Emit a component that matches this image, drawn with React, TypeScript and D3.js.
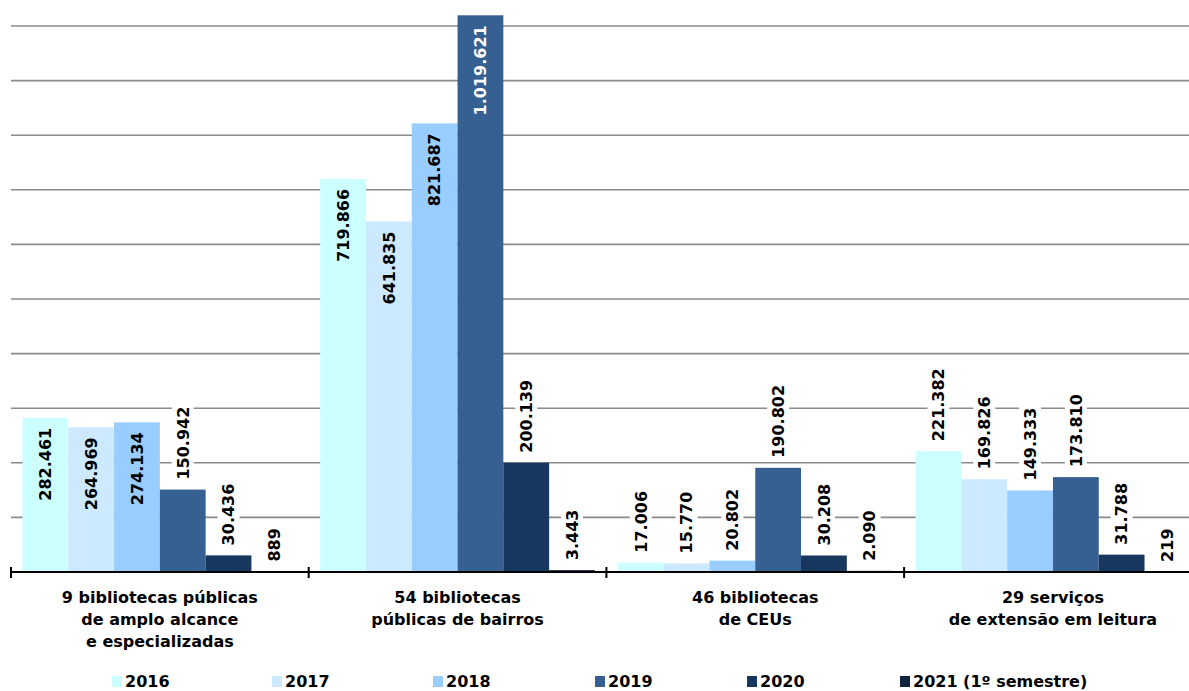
import React from "react";
import * as d3 from "d3";

const categories: string[][] = [
  ["9 bibliotecas públicas", "de amplo alcance", "e especializadas"],
  ["54 bibliotecas", "públicas de bairros"],
  ["46 bibliotecas", "de CEUs"],
  ["29 serviços", "de extensão em leitura"],
];
const seriesNames = ["2016", "2017", "2018", "2019", "2020", "2021 (1º semestre)"];
const seriesColors = ["#CCFFFF", "#CCE9FF", "#99CCFF", "#366092", "#17375E", "#10243F"];
const labelColors = ["#000", "#000", "#000", "#fff", "#fff", "#fff"];

const v2016 = [282461, 719866, 17006, 221382];
const v2017 = [264969, 641835, 15770, 169826];
const v2018 = [274134, 821687, 20802, 149333];
const v2019 = [150942, 1019621, 190802, 173810];
const v2020 = [30436, 200139, 30208, 31788];
const v2021 = [889, 3443, 2090, 219];
const seriesValues = [v2016, v2017, v2018, v2019, v2020, v2021];
const gridTicks = [100000, 200000, 300000, 400000, 500000, 600000, 700000, 800000, 900000, 1000000];

const W = 1189;
const H = 691;
const FONT = "'DejaVu Sans', Verdana, sans-serif";

const fmt = (v: number) => d3.format(",")(v).replace(/,/g, ".");

export default function App() {
  const left = 11;
  const groupW = 297.7;
  const baseY = 572;
  const x0 = d3
    .scaleBand<number>()
    .domain(categories.map((_, i) => i))
    .range([left, left + groupW * categories.length])
    .paddingInner(0)
    .paddingOuter(0);
  const x1 = d3
    .scaleBand<number>()
    .domain(seriesNames.map((_, i) => i))
    .range([11.5, groupW - 11.5])
    .padding(0);
  const y = d3.scaleLinear().domain([0, 1000000]).range([baseY, 26]);
  const inside = (v: number) => v > 250000;

  const legendX = [112, 272, 433, 595, 747, 900];

  return (
    <svg
      width={W}
      height={H}
      style={{ position: "absolute", left: 0, top: 0, background: "#fff" }}
      fontFamily={FONT}
    >
      <rect x={0} y={0} width={W} height={H} fill="#fff" />
      {gridTicks.map((t) => (
        <line key={t} x1={left} x2={W} y1={y(t)} y2={y(t)} stroke="#8a8a8a" strokeWidth={1.6} />
      ))}
      {categories.map((_, ci) => (
        <g key={ci} transform={`translate(${x0(ci)},0)`}>
          {seriesValues.map((vals, si) => {
            const v = vals[ci];
            const bx = x1(si)!;
            const bw = x1.bandwidth();
            return (
              <rect key={si} x={bx} y={y(v)} width={bw} height={baseY - y(v)} fill={seriesColors[si]} />
            );
          })}
        </g>
      ))}
      {categories.map((_, ci) => (
        <g key={"l" + ci} transform={`translate(${x0(ci)},0)`}>
          {seriesValues.map((vals, si) => {
            const v = vals[ci];
            const cx = x1(si)! + x1.bandwidth() / 2;
            const txt = fmt(v);
            const isIn = inside(v);
            const ty = isIn ? y(v) + 10 : y(v) - 10;
            const approxLen = txt.length * 10.6;
            return (
              <g key={si} transform={`translate(${cx},${ty}) rotate(-90)`}>
                {!isIn && (
                  <rect x={-3} y={-11} width={approxLen + 6} height={22} fill="#fff" />
                )}
                <text
                  x={0}
                  y={0}
                  dy="0.36em"
                  textAnchor={isIn ? "end" : "start"}
                  fontSize={16}
                  fontWeight="bold"
                  fill={isIn ? labelColors[si] : "#000"}
                >
                  {txt}
                </text>
              </g>
            );
          })}
        </g>
      ))}
      <line x1={left} x2={W} y1={baseY} y2={baseY} stroke="#000" strokeWidth={2} />
      {d3.range(categories.length + 1).map((i) => (
        <line
          key={"t" + i}
          x1={left + groupW * i}
          x2={left + groupW * i}
          y1={baseY - 5}
          y2={baseY + 6}
          stroke="#000"
          strokeWidth={2}
        />
      ))}
      {categories.map((lines, ci) => (
        <text
          key={"c" + ci}
          x={x0(ci)! + groupW / 2}
          y={603}
          textAnchor="middle"
          fontSize={16}
          fontWeight="bold"
          fill="#000"
        >
          {lines.map((ln, li) => (
            <tspan key={li} x={x0(ci)! + groupW / 2} y={603 + li * 22}>
              {ln}
            </tspan>
          ))}
        </text>
      ))}
      {seriesNames.map((n, si) => (
        <g key={"lg" + si} transform={`translate(${legendX[si]},0)`}>
          <rect x={0} y={676} width={10} height={11} fill={seriesColors[si]} />
          <text x={13} y={687} fontSize={16} fontWeight="bold" fill="#000">
            {n}
          </text>
        </g>
      ))}
    </svg>
  );
}
